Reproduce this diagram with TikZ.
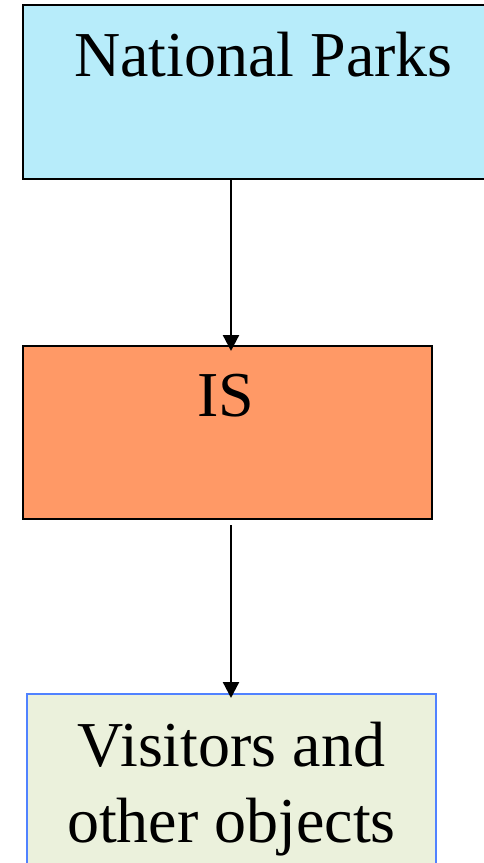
\documentclass[tikz,border=0pt]{standalone}
\usepackage{fontspec}
\setmainfont{Liberation Serif}
\usetikzlibrary{arrows.meta}
\definecolor{npblue}{RGB}{183,236,250}
\definecolor{isorange}{RGB}{255,153,102}
\definecolor{visgreen}{RGB}{235,241,220}
\definecolor{visborder}{RGB}{80,130,255}
\tikzset{
  box/.style={rectangle, inner sep=0pt, line width=1.8pt, draw=black},
  label/.style={font=\fontsize{48pt}{57pt}\selectfont, inner sep=0pt, anchor=base},
  link/.style={line width=1.7pt, -{Triangle[width=12pt,length=12pt]}}
}
\begin{document}
\begin{tikzpicture}[x=0.75pt,y=-0.75pt]
\useasboundingbox[fill=white] (0,0) rectangle (483,863);
\node[box, fill=npblue, minimum width=481*0.75pt, minimum height=174*0.75pt] (np) at (263.5,92) {};
\node[label] (nptext) at (263.5,77) {National Parks};
\node[box, fill=isorange, minimum width=409*0.75pt, minimum height=173*0.75pt] (is) at (227.5,432.5) {};
\node[label] (istext) at (226,416) {IS};
\node[box, fill=visgreen, draw=visborder, line width=1.2pt, minimum width=409*0.75pt, minimum height=200*0.75pt] (vis) at (231.5,794) {};
\node[label, align=center] (vistext) at (231.5,842) {Visitors and\\other objects};
\coordinate (a1s) at (231,179);
\coordinate (a1e) at (231,351);
\coordinate (a2s) at (231,525);
\coordinate (a2e) at (231,698);
\draw[link] (a1s) -- (a1e);
\draw[link] (a2s) -- (a2e);
\end{tikzpicture}
\end{document}
